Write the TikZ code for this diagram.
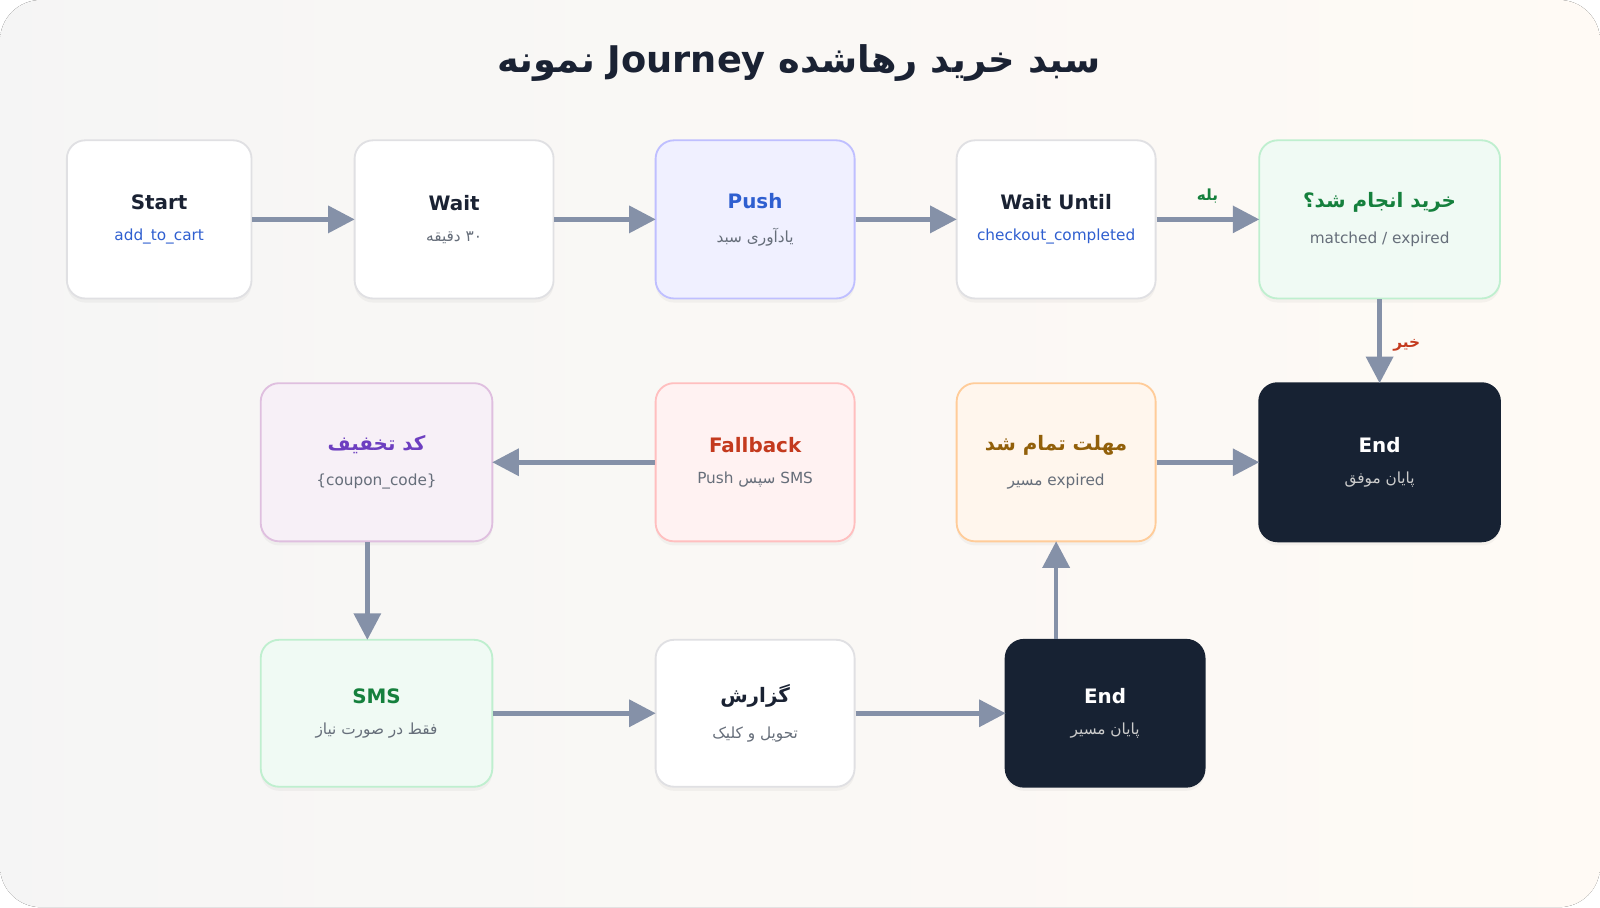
\documentclass[tikz,border=0pt]{standalone}
\usepackage{fontspec}
\setmainfont{DejaVu Sans}
\newfontfamily\fa[Script=Arabic]{DejaVu Sans}
\usetikzlibrary{arrows.meta,shadows}
\TeXXeTstate=1
\newcommand{\R}[1]{{\fa\beginR #1\endR}}
\definecolor{ink}{HTML}{1A2233}
\definecolor{sub}{HTML}{666E7A}
\definecolor{arr}{HTML}{8591A8}
\definecolor{blu}{HTML}{2F5FD0}
\definecolor{grn}{HTML}{15803D}
\definecolor{pur}{HTML}{6D3FC0}
\definecolor{red1}{HTML}{C43A1E}
\definecolor{amb}{HTML}{92600A}
\definecolor{dark}{HTML}{172233}
\newcommand{\nd}[3]{{\fontsize{19.5}{22}\selectfont\bfseries\color{#1}#2}\\[18pt]{\fontsize{15}{17}\selectfont #3}}
\begin{document}
\begin{tikzpicture}[x=1pt,y=-1pt,
 box/.style={draw=#1,rounded corners=18pt,line width=1.8pt,align=center,text=sub,inner sep=0pt,
   drop shadow={shadow xshift=0pt,shadow yshift=-4pt,opacity=0.07}},
 w/.style={minimum width=#1},
 r1/.style={minimum height=155},
 r3/.style={minimum height=144},
 ar/.style={draw=arr,line width=4.5pt,-{Triangle[length=26pt,width=26pt]},shorten >=-1pt}]
\useasboundingbox (0,0) rectangle (1568,889);
\fill[left color=black!5,right color=orange!5,rounded corners=40pt] (0,0) rectangle (1568,889);
\fill[color=white,opacity=0.3,rounded corners=40pt] (0,0) rectangle (1568,889);
\node[text=ink] (title) at (783,62) {\fontsize{36}{42}\selectfont\bfseries \R{نمونه} Journey \R{سبد خرید رهاشده}};
\node[box=blue!10!black!12,fill=white,w=181,r1] (start) at (156,215) {\nd{ink}{Start}{\color{blu}add\_to\_cart}};
\node[box=blue!10!black!12,fill=white,w=195,r1] (wait) at (445,215) {\nd{ink}{Wait}{\R{دقیقه}\ \R{۳۰}}};
\node[box=blue!25,fill=blue!6,w=195,r1] (push) at (740,215) {\nd{blu}{Push}{\R{یادآوری سبد}}};
\node[box=blue!10!black!12,fill=white,w=195,r1] (until) at (1035,215) {\nd{ink}{Wait Until}{\color{blu}checkout\_completed}};
\node[box=green!50!teal!25,fill=green!40!teal!6,w=236,r1] (dec) at (1352,215) {\nd{grn}{\R{خرید انجام شد؟}}{matched / expired}};
\node[box=violet!25,fill=violet!6,w=227,r1] (coupon) at (369,453) {\nd{pur}{\R{کد تخفیف}}{\{coupon\_code\}}};
\node[box=red!25,fill=red!5,w=195,r1] (fb) at (740,453) {\nd{red1}{Fallback}{Push \R{سپس} SMS}};
\node[box=orange!40,fill=orange!7,w=195,r1] (dead) at (1035,453) {\nd{amb}{\R{مهلت تمام شد}}{\R{مسیر} expired}};
\node[box=dark,fill=dark,w=236,r1] (end1) at (1352,453) {\nd{white}{End}{\color{black!20}\R{پایان موفق}}};
\node[box=green!50!teal!25,fill=green!40!teal!6,w=227,r3] (sms) at (369,699) {\nd{grn}{SMS}{\R{فقط در صورت نیاز}}};
\node[box=blue!10!black!12,fill=white,w=195,r3] (rep) at (740,699) {\nd{ink}{\R{گزارش}}{\R{تحویل و کلیک}}};
\node[box=dark,fill=dark,w=195,r3] (end2) at (1083,699) {\nd{white}{End}{\color{black!20}\R{پایان مسیر}}};
\draw[ar] (start) -- (wait);
\draw[ar] (wait) -- (push);
\draw[ar] (push) -- (until);
\draw[ar] (until) -- node[above=10pt,text=grn,font=\fontsize{15}{17}\selectfont\bfseries]{\R{بله}} (dec);
\draw[ar] (dec) -- node[right=8pt,pos=0.55,text=red1,font=\fontsize{15}{17}\selectfont\bfseries]{\R{خیر}} (end1);
\draw[ar] (fb) -- (coupon);
\draw[ar] (coupon.south -| 360,0) -- (sms.north -| 360,0);
\draw[ar] (sms) -- (rep);
\draw[ar] (rep) -- (end2);
\draw[ar] (end2.north -| dead) -- (dead);
\draw[ar] (dead) -- (end1);
\end{tikzpicture}
\end{document}
